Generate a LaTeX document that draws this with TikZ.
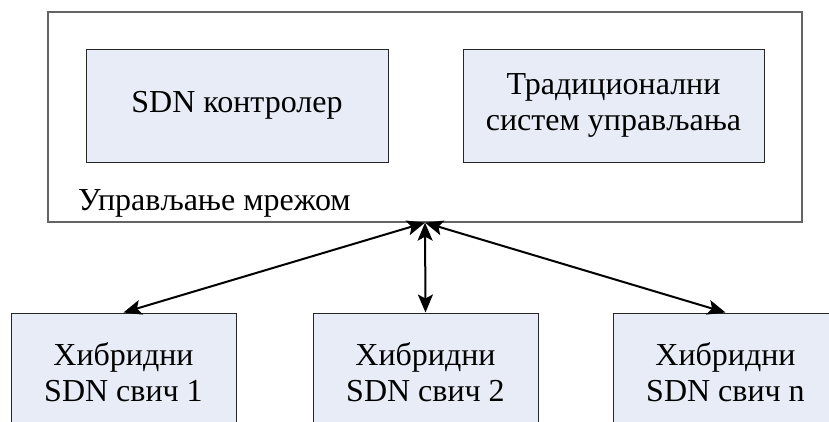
\documentclass[tikz,border=0pt]{standalone}
\usepackage{fontspec}
\setmainfont{Liberation Serif}
\usetikzlibrary{arrows.meta,positioning}
\definecolor{boxfill}{RGB}{231,236,246}
\definecolor{framegray}{RGB}{100,100,100}
\tikzset{>={Stealth[length=18pt,width=15pt,inset=4pt]}}
\tikzset{
  block/.style={draw=black!85, fill=boxfill, line width=1pt, align=center,
    inner sep=0pt, font=\rmfamily\fontsize{32}{36}\selectfont},
  frame/.style={draw=framegray, line width=1.3pt, inner sep=0pt},
  link/.style={<->, line width=2pt}
}

\begin{document}
\begin{tikzpicture}[x=1pt,y=-1pt]
  \useasboundingbox (0,0) rectangle (829,421);
  \clip (0,0) rectangle (829,421);
  % management part
  \node[frame, minimum width=754pt, minimum height=210pt] (mgmt) at (425,117) {};
  \node[block, minimum width=302pt, minimum height=113pt] (ctrl) at (237,105.5) {SDN контролер};
  \node[block, minimum width=301pt, minimum height=113pt] (trad) at (613.5,105.5) {Традиционални\\систем управљања};
  \node[anchor=base west, inner sep=0pt, font=\rmfamily\fontsize{32}{36}\selectfont] (mlabel) at (78,210) {Управљање мрежом};
  % switches
  \node[block, minimum width=225pt, minimum height=118pt] (sw1) at (123.5,372) {Хибридни\\SDN свич 1};
  \node[block, minimum width=225pt, minimum height=118pt] (sw2) at (425.5,372) {Хибридни\\SDN свич 2};
  \node[block, minimum width=225pt, minimum height=118pt] (sw3) at (725.5,372) {Хибридни\\SDN свич n};
  \draw[link] (mgmt.south) -- (sw1.north);
  \draw[link] (mgmt.south) -- (sw2.north);
  \draw[link] (mgmt.south) -- (sw3.north);
\end{tikzpicture}
\end{document}
